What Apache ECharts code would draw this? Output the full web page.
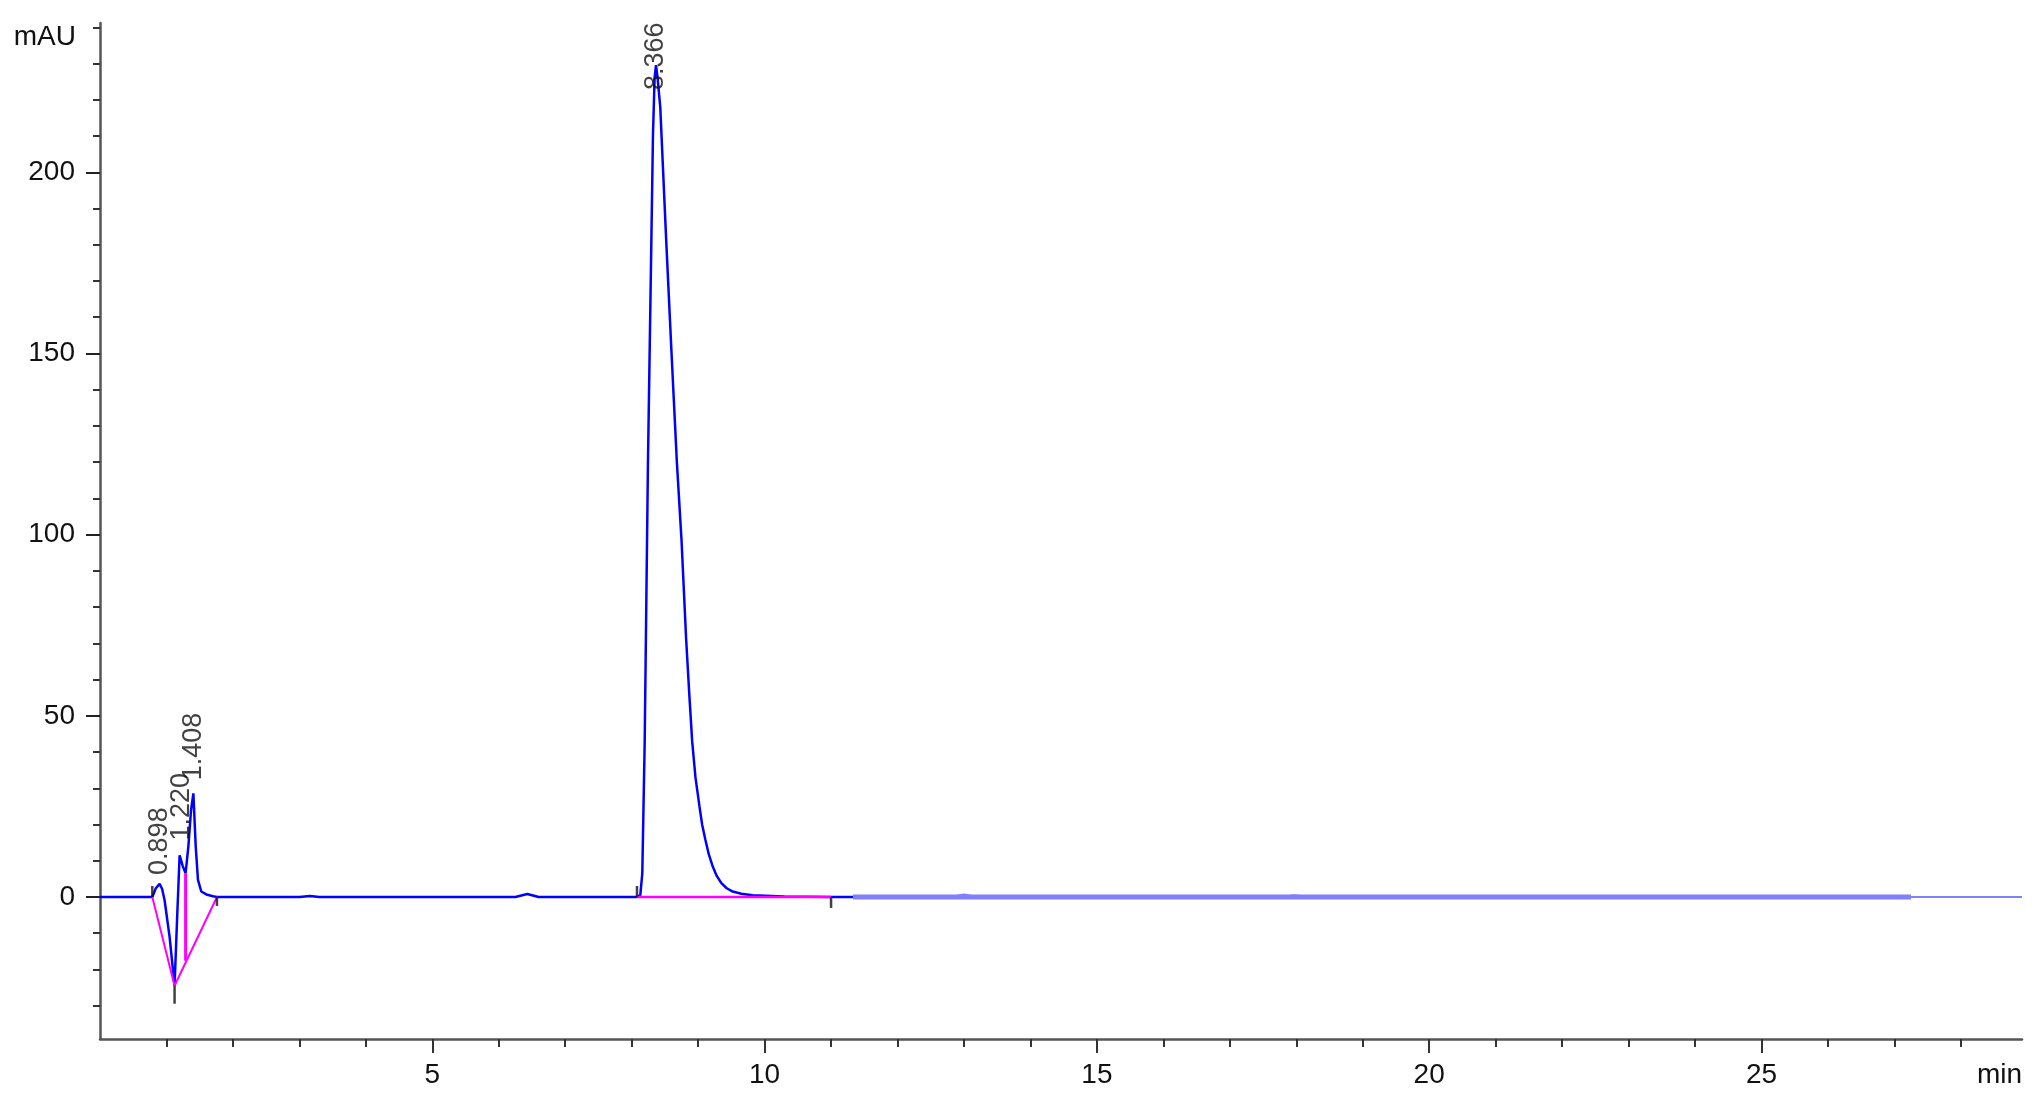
<!DOCTYPE html>
<html>
<head>
<meta charset="utf-8">
<title>Chromatogram</title>
<script src="https://cdn.jsdelivr.net/npm/echarts@6/dist/echarts.min.js"></script>
<style>
  html, body { margin: 0; padding: 0; background: #fff; }
  #chart { width: 2044px; height: 1106px; }
</style>
</head>
<body>
<div id="chart"></div>
<script>
// detector trace, time in min, signal in mAU
var signalTime = [0, 0.787, 0.84, 0.897, 0.935, 0.972, 1.047, 1.122, 1.16, 1.198, 1.212, 1.245, 1.288,
  1.33, 1.37, 1.405, 1.44, 1.474, 1.524, 1.6, 1.7, 1.76, 3.0, 3.16, 3.3, 6.25, 6.43, 6.6,
  8.08, 8.13, 8.16, 8.196, 8.245, 8.296, 8.32, 8.345, 8.366, 8.39, 8.43, 8.52, 8.6, 8.68, 8.75,
  8.82, 8.87, 8.91, 8.96, 9.02, 9.06, 9.11, 9.16, 9.22, 9.28, 9.35, 9.43, 9.52, 9.65, 9.82, 10.3,
  11.0, 11.33, 12.8, 13.0, 13.2, 17.75, 17.97, 18.2, 28.92];
var signalValue = [0, 0, 2.4, 3.6, 2.2, -0.9, -11, -24.5, -6, 11.5, 12, 8.5, 6.5,
  14, 24, 28.6, 14, 4.7, 1.5, 0.7, 0.2, 0, 0, 0.25, 0, 0, 0.8, 0,
  0, 0.5, 6.6, 43, 120, 181, 210, 226, 229.6, 226, 218, 181, 150, 120, 98.5,
  71, 55, 43, 33, 25, 20, 15.7, 11.8, 8.4, 5.8, 3.8, 2.4, 1.5, 0.9, 0.5, 0.15,
  0, 0, 0, 0.7, 0, 0, 0.5, 0, 0];

// time where the trace turns pale
var paleFrom = 11.33;

// integration baselines
var baseEarlyTime = [0.787, 1.122, 1.76];
var baseEarlyValue = [0, -24.5, 0];
var dropTime = [1.288, 1.288];
var dropValue = [6.5, -17.6];
var baseMainTime = [8.08, 11.0];
var baseMainValue = [0, 0];

// pale band over the flat part of the run
var bandTime = [11.33, 27.25];
var bandValue = [0, 0];

// peak start / end marks
var eventTime = [0.787, 1.122, 1.76, 8.08, 11.0];
var eventValue = [0, -24.5, 0, 0, 0];

// retention times
var peakTime = [0.898, 1.22, 1.408, 8.366];
var peakValue = [3.6, 12, 28.6, 229.6];
var peakLabels = ['0.898', '1.220', '1.408', '8.366'];

var xTickLabels = [5, 10, 15, 20, 25];
var xMinorTicks = [1, 2, 3, 4, 6, 7, 8, 9, 11, 12, 13, 14, 16, 17, 18, 19, 21, 22, 23, 24, 26, 27, 28];
var yTickLabels = [0, 50, 100, 150, 200];
var yMinorTicks = [-30, -20, -10, 10, 20, 30, 40, 60, 70, 80, 90, 110, 120, 130, 140,
  160, 170, 180, 190, 210, 220, 230, 240];

function pairs(xs, ys) {
  return xs.map(function (x, i) { return [x, ys[i]]; });
}

var signalPairs = pairs(signalTime, signalValue);
var signalDark = signalPairs.filter(function (p) { return p[0] <= paleFrom; });
var signalPale = signalPairs.filter(function (p) { return p[0] >= paleFrom; });

var FONT = '"Liberation Sans", Arial, sans-serif';
var TXT = '#111';
var AXIS = '#555';

// look of the marks (not data)
var markerDir = [-1, 1, 1, -1, 1];
var markerLen = [11, 18, 9, 11, 11];
var labelGap = [9, 13, 13, -25];

var myChart = echarts.init(document.getElementById('chart'), null, { renderer: 'canvas' });

var xRange = { min: 0, max: 28.92 };
var yRange = { min: -39.2, max: 241.2 };

var option = {
  animation: false,
  backgroundColor: '#fff',
  grid: { left: 100, right: 22, top: 23, bottom: 67 },
  xAxis: [
    {
      type: 'value',
      min: xRange.min, max: xRange.max,
      position: 'bottom',
      axisLine: { show: true, onZero: false, lineStyle: { color: AXIS, width: 2.5 } },
      axisTick: { show: true, customValues: xTickLabels, length: 14, lineStyle: { color: '#333', width: 2 } },
      axisLabel: { customValues: xTickLabels, margin: 22, fontSize: 28, color: TXT, fontFamily: FONT },
      splitLine: { show: false },
      name: 'min',
      nameLocation: 'end',
      nameGap: 0,
      nameTextStyle: { fontSize: 28, color: TXT, fontFamily: FONT, align: 'right', verticalAlign: 'top', padding: [22, 0, 0, 0] }
    },
    {
      type: 'value',
      min: xRange.min, max: xRange.max,
      position: 'bottom',
      axisLine: { show: false, onZero: false },
      axisTick: { show: true, customValues: xMinorTicks, length: 8, lineStyle: { color: '#333', width: 2 } },
      axisLabel: { show: false },
      splitLine: { show: false }
    }
  ],
  yAxis: [
    {
      type: 'value',
      min: yRange.min, max: yRange.max,
      position: 'left',
      axisLine: { show: true, onZero: false, lineStyle: { color: AXIS, width: 2.5 } },
      axisTick: { show: true, customValues: yTickLabels, length: 14, lineStyle: { color: '#222', width: 2 } },
      axisLabel: { customValues: yTickLabels, margin: 25, fontSize: 28, color: TXT, fontFamily: FONT },
      splitLine: { show: false },
      name: 'mAU',
      nameLocation: 'end',
      nameGap: 0,
      nameTextStyle: { fontSize: 28, color: TXT, fontFamily: FONT, align: 'right', verticalAlign: 'top', padding: [0, 24, 0, 0] }
    },
    {
      type: 'value',
      min: yRange.min, max: yRange.max,
      position: 'left',
      axisLine: { show: false, onZero: false },
      axisTick: { show: true, customValues: yMinorTicks, length: 7, lineStyle: { color: '#333', width: 2 } },
      axisLabel: { show: false },
      splitLine: { show: false }
    }
  ],
  series: [
    {
      name: 'signal',
      type: 'line',
      data: signalDark,
      showSymbol: false,
      lineStyle: { color: '#0000ff', width: 2.5 },
      z: 3
    },
    {
      name: 'signal pale',
      type: 'line',
      data: signalPale,
      showSymbol: false,
      lineStyle: { color: '#8080ff', width: 2 },
      z: 3
    },
    {
      name: 'band',
      type: 'line',
      data: pairs(bandTime, bandValue),
      showSymbol: false,
      lineStyle: { color: '#8080ff', width: 5 },
      z: 2
    },
    {
      name: 'baseline early',
      type: 'line',
      data: pairs(baseEarlyTime, baseEarlyValue),
      showSymbol: false,
      lineStyle: { color: '#ff00ff', width: 2 },
      z: 4
    },
    {
      name: 'drop',
      type: 'line',
      data: pairs(dropTime, dropValue),
      showSymbol: false,
      lineStyle: { color: '#ff00ff', width: 3 },
      z: 4
    },
    {
      name: 'baseline main',
      type: 'line',
      data: pairs(baseMainTime, baseMainValue),
      showSymbol: false,
      lineStyle: { color: '#ff00ff', width: 2.5 },
      z: 4
    },
    {
      name: 'events',
      type: 'scatter',
      data: eventTime.map(function (t, i) {
        return {
          value: [t, eventValue[i]],
          symbolSize: [2.5, markerLen[i]],
          symbolOffset: [0, markerDir[i] * markerLen[i] / 2]
        };
      }),
      symbol: 'rect',
      itemStyle: { color: '#111' },
      z: 5
    },
    {
      name: 'peaks',
      type: 'scatter',
      symbolSize: 0,
      data: peakTime.map(function (t, i) {
        return {
          value: [t, peakValue[i]],
          label: { distance: labelGap[i] },
          name: peakLabels[i]
        };
      }),
      label: {
        show: true,
        position: 'top',
        rotate: 90,
        align: 'left',
        verticalAlign: 'middle',
        formatter: function (p) { return p.name; },
        fontSize: 27,
        color: TXT,
        fontFamily: FONT
      },
      z: 6
    }
  ]
};

myChart.setOption(option);
</script>
</body>
</html>
